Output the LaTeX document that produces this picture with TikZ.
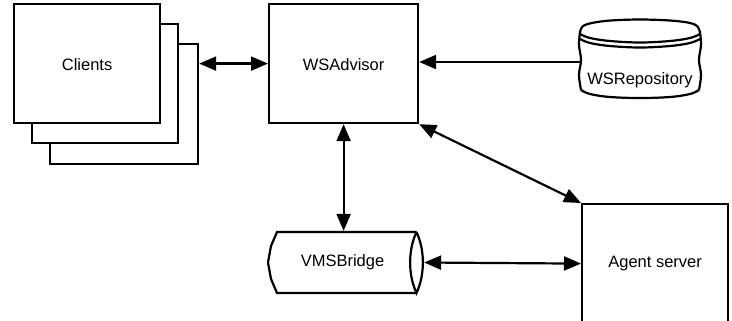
\documentclass[tikz,border=0pt]{standalone}
\usepackage{fontspec}
\setmainfont{Liberation Sans}
\usetikzlibrary{arrows.meta}

\begin{document}
\begin{tikzpicture}[x=1pt, y=-1pt, line width=2.2pt,
  box/.style={draw, fill=white, line width=2.2pt, inner sep=0pt,
              minimum width=146pt, minimum height=119pt, anchor=north west},
  lbl/.style={font=\fontsize{16.5}{18}\selectfont, inner sep=0pt},
  tip/.tip={Triangle[length=17pt, width=14pt]},
  link/.style={tip-tip, line width=2.2pt},
  oneway/.style={-tip, line width=2.2pt},
  wavy/.style={smooth, tension=0.6}]
\useasboundingbox (0,0) rectangle (732,321);
\clip (0,0) rectangle (732,321);

% stacked client boxes, back to front
\node[box, minimum width=148pt, minimum height=120pt] (clientsC) at (49,43) {};
\node[box] (clientsB) at (31,23) {};
\node[box] (clients) at (13,3) {};
\node[lbl, yshift=-1pt] at (clients.center) {Clients};

% advisor
\node[box, minimum width=149pt] (advisor) at (268,3) {};
\node[lbl, yshift=-1pt] at (advisor.center) {WSAdvisor};

% agent server (its lower edge runs off the page)
\node[box] (agent) at (581,203) {};
\node[lbl] at (agent.center) {Agent server};

% repository drum with a hand-drawn outline
\draw plot[wavy] coordinates {(580,32) (583,26) (592,23) (605,21) (620,20) (640,19.5) (660,20) (676,21) (690,23) (697,26) (700,32)};
\draw plot[wavy] coordinates {(580,32) (579,45) (581,60) (579,75) (581,90)};
\draw plot[wavy] coordinates {(700,32) (701,45) (699,60) (701,75) (699,90)};
\draw plot[wavy] coordinates {(581,90) (590,94) (610,97) (640,98) (670,97) (690,94) (699,90)};
\draw plot[wavy] coordinates {(580,34) (590,38) (610,41) (640,42.5) (670,41) (690,38) (700,34)};
\draw plot[wavy] coordinates {(580,39) (590,43) (610,46) (640,47.5) (670,46) (690,43) (700,39)};
\node[lbl] (repo) at (640,80) {WSRepository};
\coordinate (repoL) at (580,62);

% bridge: a lying cylinder
\draw (416.5,232) -- (277,232) -- (271,246) -- (268,262.5) -- (271,279) -- (277,293) -- (416.5,293);
\draw (416.5,232) .. controls (408,250) and (408,275) .. (416.5,293)
                  .. controls (425,275) and (425,250) .. (416.5,232);
\node[inner sep=0pt, minimum width=155pt, minimum height=61pt] (bridge) at (345.5,262.5) {};
\node[lbl] at (342.5,262.5) {VMSBridge};

% connectors
\draw[link] (clientsC.east |- advisor.west) -- (advisor.west);
\draw[oneway] (repoL) -- (advisor.east |- repoL);
\draw[link] (advisor.south) -- (advisor.south |- bridge.north);
\draw[link] (advisor.south east) -- (agent.north west);
\draw[link] (bridge.east) -- (agent.west);
\end{tikzpicture}
\end{document}
